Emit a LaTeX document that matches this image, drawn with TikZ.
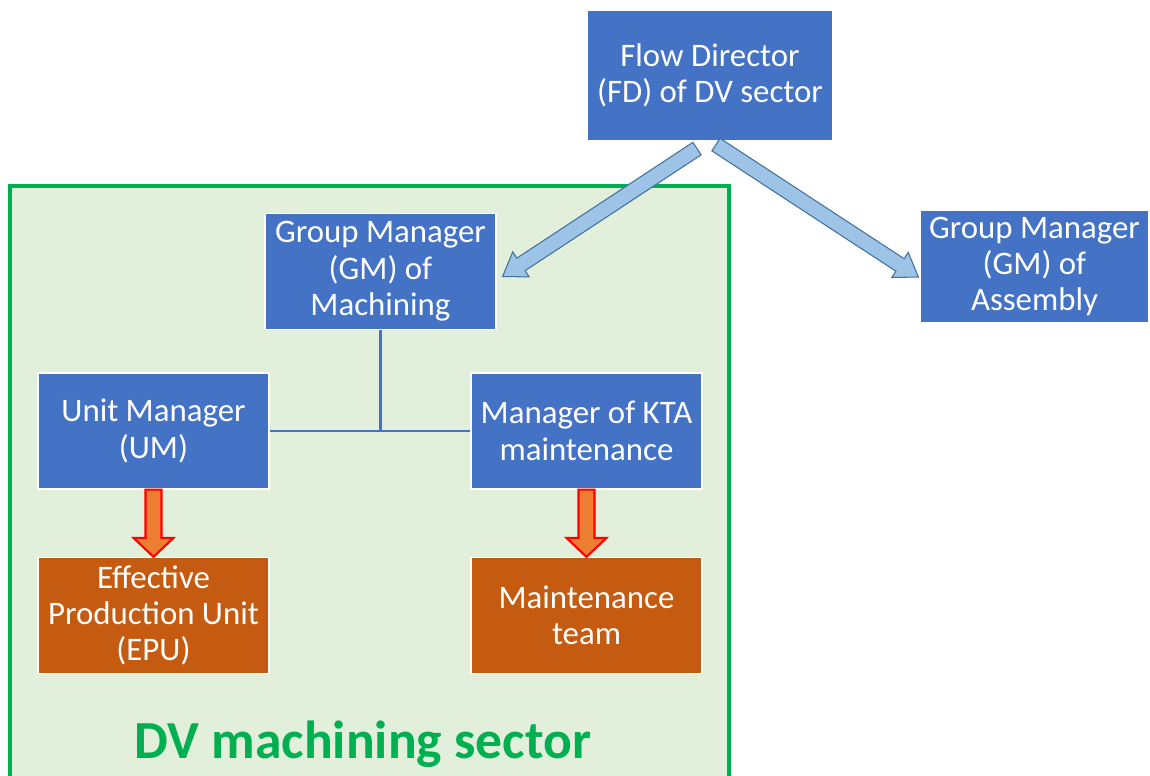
\documentclass[tikz,border=0pt]{standalone}
\usepackage{fontspec}
\setmainfont{Carlito}
\usetikzlibrary{calc}

\definecolor{roleblue}{HTML}{4472C4}
\definecolor{teamorange}{HTML}{C55A11}
\definecolor{sectorgreen}{HTML}{00B050}
\definecolor{sectorfill}{HTML}{E2EFDA}
\definecolor{flowfill}{HTML}{9DC3E6}
\definecolor{flowline}{HTML}{41719C}
\definecolor{taskfill}{HTML}{ED7D31}

\tikzset{
  rolebox/.style={draw=white, line width=0.7pt, fill=roleblue, text=white,
    align=center, inner sep=0pt, font=\fontsize{18.7}{20.7}\selectfont,
    minimum width=4.62cm, minimum height=2.32cm},
  teambox/.style={rolebox, fill=teamorange},
  link/.style={draw=roleblue, line width=1.2pt},
  flowarrow/.style={fill=flowfill, draw=flowline, line width=0.6pt, line join=miter},
  taskarrow/.style={fill=taskfill, draw=red, line width=1.2pt, line join=miter}
}

% block arrow: [style]{from}{to}{shaft half width}{head half width}{head length}
\newcommand\blockarrow[6][]{%
  \coordinate (bh) at ($(#3)!#6!(#2)$);
  \draw[#1] ($(#2)!#4!90:(#3)$) -- ($(bh)!#4!90:(#3)$) -- ($(bh)!#5!90:(#3)$) -- (#3)
    -- ($(bh)!#5!-90:(#3)$) -- ($(bh)!#4!-90:(#3)$) -- ($(#2)!#4!-90:(#3)$) -- cycle;
}

\begin{document}
\begin{tikzpicture}[x=0.02cm, y=-0.02cm]
	\useasboundingbox (0, 0) rectangle (1150, 776);
	% sector frame
	\draw[sectorgreen, fill=sectorfill, line width=0.08cm] (10, 186) rectangle (729, 800);
	\node[text=sectorgreen, font=\fontsize{30.5}{36}\selectfont\bfseries] (sector) at (363, 744) {DV machining sector};

	% roles
	\node[rolebox, minimum width=4.92cm, minimum height=2.62cm] (fd) at (710, 75.5) {Flow Director\\(FD) of DV sector};
	\node[rolebox] (gm) at (380.5, 271.5) {Group Manager\\(GM) of\\Machining};
	\node[rolebox, minimum width=4.58cm, minimum height=2.26cm] (gma) at (1034.5, 266.5) {Group Manager\\(GM) of\\Assembly};
	\node[rolebox] (um) at (153.5, 431) {Unit Manager\\(UM)};
	\node[rolebox] (kta) at (586.5, 431) {Manager of KTA\\maintenance};
	\node[teambox] (epu) at (153.5, 615.5) {Effective\\Production Unit\\(EPU)};
	\node[teambox] (mt) at (586.5, 615.5) {Maintenance\\team};

	% hierarchy lines
	\draw[link] (gm.south) -- (gm.south |- um.east);
	\draw[link] (um.east) -- (kta.west);

	% flow arrows from the director
	\coordinate (fdl) at ($(fd.south) + (-13, 7)$);
	\coordinate (fdr) at ($(fd.south) + (6, 3)$);
	\coordinate (gmtip) at ($(gm.east) + (6, 5)$);
	\coordinate (gmatip) at ($(gma.west) + (-1, 10.5)$);
	\blockarrow[flowarrow]{fdl}{gmtip}{0.15cm}{0.3cm}{0.44cm}
	\blockarrow[flowarrow]{fdr}{gmatip}{0.15cm}{0.3cm}{0.44cm}

	% task arrows down to the teams
	\blockarrow[taskarrow]{um.south}{epu.north}{0.16cm}{0.4cm}{0.38cm}
	\blockarrow[taskarrow]{kta.south}{mt.north}{0.16cm}{0.4cm}{0.38cm}
\end{tikzpicture}
\end{document}
